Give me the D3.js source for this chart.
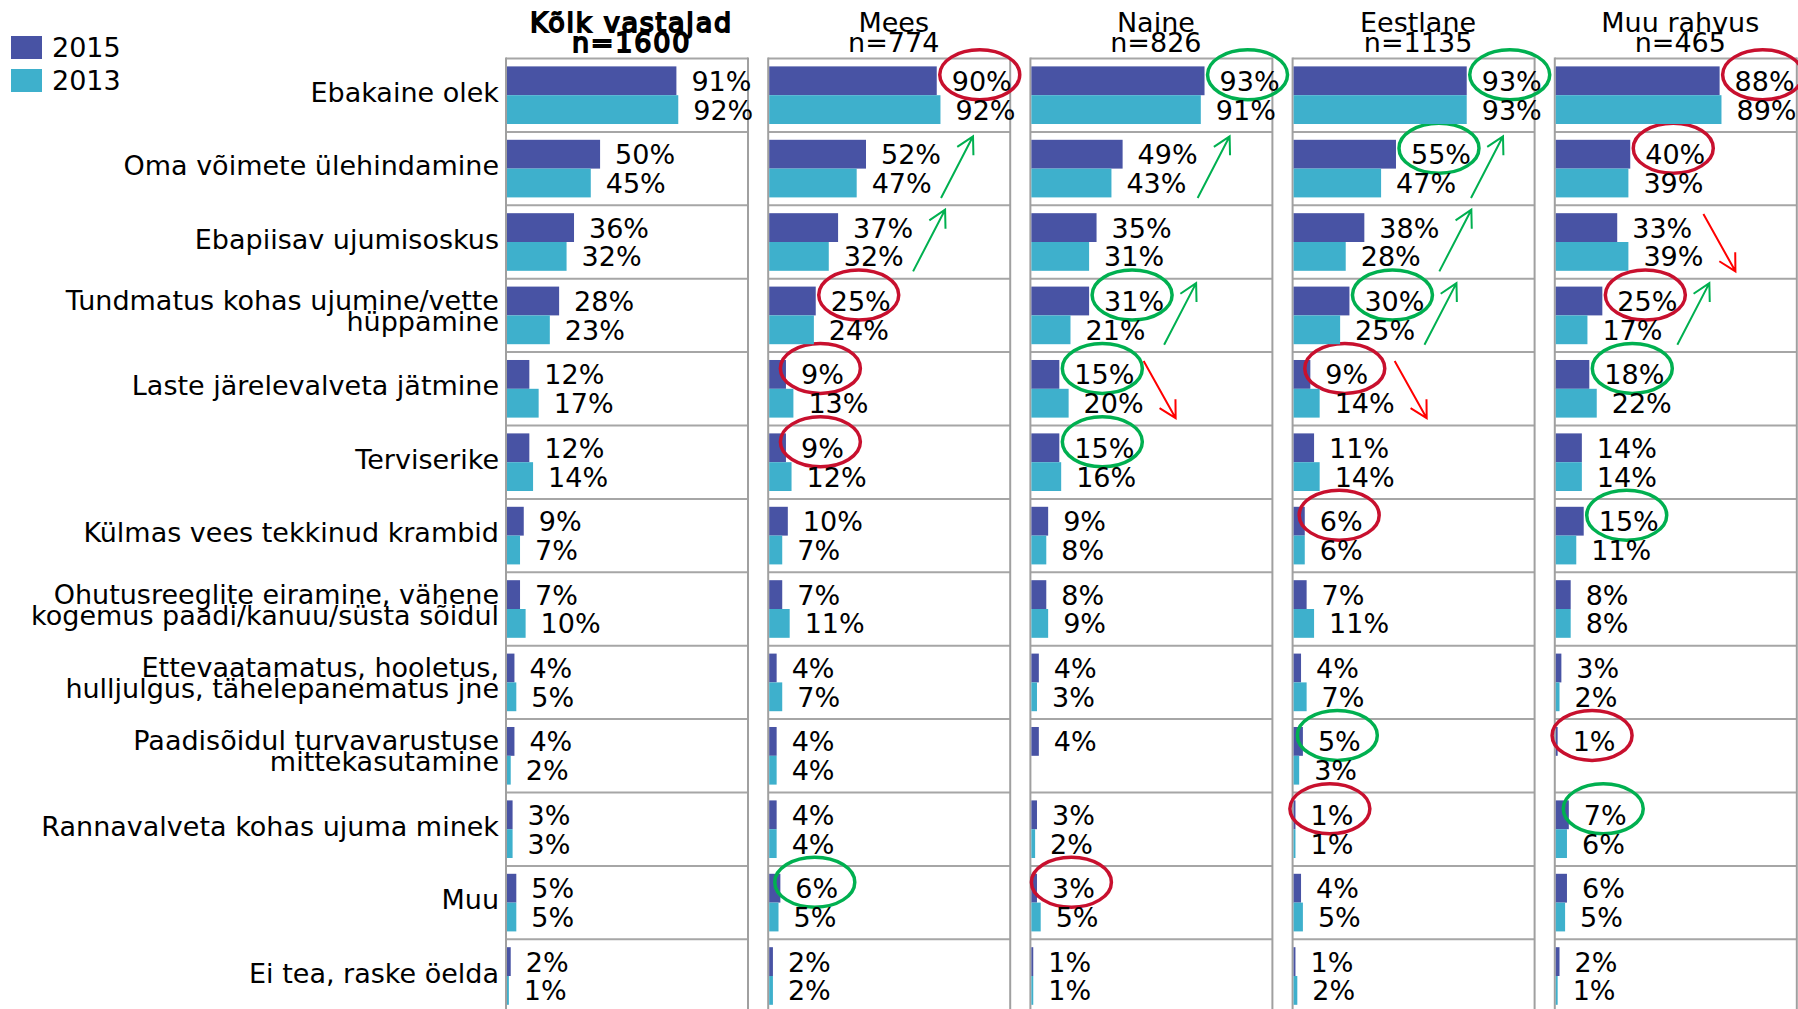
<html>
<head>
<meta charset="utf-8">
<script src="https://d3js.org/d3.v7.min.js"></script>
<style>
  body { margin: 0; background: #fff; }
  text { font-family: "DejaVu Sans", Verdana, sans-serif; fill: #000; }
</style>
</head>
<body>
<div id="chart"></div>
<script>
// categories (a "\n" splits the label in two lines)
var categories = [
  "Ebakaine olek",
  "Oma võimete ülehindamine",
  "Ebapiisav ujumisoskus",
  "Tundmatus kohas ujumine/vette\nhüppamine",
  "Laste järelevalveta jätmine",
  "Terviserike",
  "Külmas vees tekkinud krambid",
  "Ohutusreeglite eiramine, vähene\nkogemus paadi/kanuu/süsta sõidul",
  "Ettevaatamatus, hooletus,\nhulljulgus, tähelepanematus jne",
  "Paadisõidul turvavarustuse\nmittekasutamine",
  "Rannavalveta kohas ujuma minek",
  "Muu",
  "Ei tea, raske öelda"
];
var years = ["2015", "2013"];
var groupNames = ["Kõik vastajad", "Mees", "Naine", "Eestlane", "Muu rahvus"];
var groupN = ["n=1600", "n=774", "n=826", "n=1135", "n=465"];

var all2015   = [91, 50, 36, 28, 12, 12, 9, 7, 4, 4, 3, 5, 2];
var all2013   = [92, 45, 32, 23, 17, 14, 7, 10, 5, 2, 3, 5, 1];
var mees2015  = [90, 52, 37, 25, 9, 9, 10, 7, 4, 4, 4, 6, 2];
var mees2013  = [92, 47, 32, 24, 13, 12, 7, 11, 7, 4, 4, 5, 2];
var naine2015 = [93, 49, 35, 31, 15, 15, 9, 8, 4, 4, 3, 3, 1];
var naine2013 = [91, 43, 31, 21, 20, 16, 8, 9, 3, null, 2, 5, 1];
var eesti2015 = [93, 55, 38, 30, 9, 11, 6, 7, 4, 5, 1, 4, 1];
var eesti2013 = [93, 47, 28, 25, 14, 14, 6, 11, 7, 3, 1, 5, 2];
var muu2015   = [88, 40, 33, 25, 18, 14, 15, 8, 3, 1, 7, 6, 2];
var muu2013   = [89, 39, 39, 17, 22, 14, 11, 8, 2, null, 6, 5, 1];

// 1 = significantly higher than average (green ring), -1 = lower (red ring)
var sigAll   = [0, 0, 0, 0, 0, 0, 0, 0, 0, 0, 0, 0, 0];
var sigMees  = [-1, 0, 0, -1, -1, -1, 0, 0, 0, 0, 0, 1, 0];
var sigNaine = [1, 0, 0, 1, 1, 1, 0, 0, 0, 0, 0, -1, 0];
var sigEesti = [1, 1, 0, 1, -1, 0, -1, 0, 0, 1, -1, 0, 0];
var sigMuu   = [-1, -1, 0, -1, 1, 0, 1, 0, 0, -1, 1, 0, 0];

// change since 2013: 1 = up arrow, -1 = down arrow
var trendAll   = [0, 0, 0, 0, 0, 0, 0, 0, 0, 0, 0, 0, 0];
var trendMees  = [0, 1, 1, 0, 0, 0, 0, 0, 0, 0, 0, 0, 0];
var trendNaine = [0, 1, 0, 1, -1, 0, 0, 0, 0, 0, 0, 0, 0];
var trendEesti = [0, 1, 1, 1, -1, 0, 0, 0, 0, 0, 0, 0, 0];
var trendMuu   = [0, 0, -1, 1, 0, 0, 0, 0, 0, 0, 0, 0, 0];

var groups = [
  {v2015: all2015,   v2013: all2013,   sig: sigAll,   trend: trendAll},
  {v2015: mees2015,  v2013: mees2013,  sig: sigMees,  trend: trendMees},
  {v2015: naine2015, v2013: naine2013, sig: sigNaine, trend: trendNaine},
  {v2015: eesti2015, v2013: eesti2013, sig: sigEesti, trend: trendEesti},
  {v2015: muu2015,   v2013: muu2013,   sig: sigMuu,   trend: trendMuu}
];

var color = {"2015": "#4853a4", "2013": "#3eb0cc"};
var ringColor = {"1": "#00b050", "-1": "#c8102e"};
var arrowColor = {"1": "#00b050", "-1": "#ff0000"};

var width = 1798, height = 1009;
var fontSize = 27;

var svg = d3.select("#chart")
  .append("svg")
    .attr("width", width)
    .attr("height", height);

// panels side by side
var panelX = d3.scaleBand()
  .domain(d3.range(groups.length))
  .range([506, 1796.8])
  .paddingInner(0.077);

var rowH = 73.4, topY = 58.5;
var y = d3.scaleBand()
  .domain(d3.range(categories.length))
  .range([topY, topY + rowH * categories.length]);

var sub = d3.scaleBand()
  .domain(years)
  .range([0, y.bandwidth()])
  .paddingOuter(0.274);

var x = d3.scaleLinear()
  .domain([0, 130])
  .range([0, panelX.bandwidth()]);

// legend
years.forEach(function(yr, i) {
  svg.append("rect")
    .attr("x", 11).attr("y", 36 + i * 33)
    .attr("width", 31).attr("height", 23)
    .attr("fill", color[yr]);
  svg.append("text")
    .attr("x", 52).attr("y", 56.5 + i * 33)
    .style("font-size", fontSize + "px")
    .text(yr);
});

// category labels
categories.forEach(function(c, r) {
  var lines = c.split("\n");
  var cy = y(r) + y.bandwidth() / 2;
  var t = svg.append("text")
    .attr("text-anchor", "end")
    .style("font-size", fontSize + "px");
  if (lines.length == 1) {
    t.attr("x", 499).attr("y", cy + 6.5).text(c);
  } else {
    t.append("tspan").attr("x", 499).attr("y", cy - 5.5).text(lines[0]);
    t.append("tspan").attr("x", 499).attr("y", cy + 15.5).text(lines[1]);
  }
});

var bw = panelX.bandwidth();
var bottom = topY + rowH * categories.length;

groups.forEach(function(g, p) {
  var panel = svg.append("g")
    .attr("transform", "translate(" + panelX(p) + ",0)");

  // header (first one drawn heavier)
  var head = panel.append("text")
    .attr("text-anchor", "middle")
    .style("font-size", fontSize + "px");
  head.append("tspan").attr("x", bw / 2 + 4.5).attr("y", 32).text(groupNames[p]);
  head.append("tspan").attr("x", bw / 2 + 4.5).attr("y", 51.6).text(groupN[p]);
  if (p == 0) {
    head.style("stroke", "#000").style("stroke-width", 1.8)
      .style("letter-spacing", "1.8px");
  }

  // frame and row separators
  panel.selectAll("line.row")
    .data(d3.range(categories.length))
    .enter().append("line")
      .attr("x1", 0).attr("x2", bw)
      .attr("y1", function(r) { return y(r); })
      .attr("y2", function(r) { return y(r); })
      .attr("stroke", "#a6a6a6").attr("stroke-width", 2);
  [0, bw].forEach(function(xx) {
    panel.append("line")
      .attr("x1", xx).attr("x2", xx)
      .attr("y1", topY - 1).attr("y2", bottom)
      .attr("stroke", "#a0a0a0").attr("stroke-width", 2);
  });

  var labelEnd = [];
  years.forEach(function(yr) {
    var vals = g["v" + yr];
    vals.forEach(function(v, r) {
      if (v == null) return;
      var by = y(r) + sub(yr);
      panel.append("rect")
        .attr("x", 1)
        .attr("y", by)
        .attr("width", x(v))
        .attr("height", sub.bandwidth())
        .attr("fill", color[yr]);
      var t = panel.append("text")
        .attr("x", x(v) + 16)
        .attr("y", by + sub.bandwidth() / 2 + 10)
        .style("font-size", fontSize + "px")
        .text(v + "%");
      var w = t.node().getComputedTextLength();
      var end = x(v) + 16 + w;
      labelEnd[r] = Math.max(labelEnd[r] || 0, end);

      // ring around the 2015 value
      if (yr == "2015" && g.sig[r] != 0) {
        panel.append("ellipse")
          .attr("cx", x(v) + 16 + w / 2 - 2)
          .attr("cy", by + sub.bandwidth() / 2 - 6)
          .attr("rx", 40).attr("ry", 25)
          .attr("fill", "none")
          .attr("stroke", ringColor[g.sig[r]])
          .attr("stroke-width", 3.5);
      }
    });
  });

  // trend arrows
  g.trend.forEach(function(d, r) {
    if (d == 0) return;
    var x0 = labelEnd[r], x1 = x0 + 32;
    var y0, y1;
    if (d > 0) { y0 = y(r) + rowH * 0.9; y1 = y(r) + rowH * 0.06; }
    else { y0 = y(r) + rowH * 0.12; y1 = y(r) + rowH * 0.9; }
    var ang = Math.atan2(y0 - y1, x0 - x1);
    var len = 19, spread = 0.5;
    var path = "M" + x0 + "," + y0 + "L" + x1 + "," + y1 +
      "M" + (x1 + len * Math.cos(ang - spread)) + "," + (y1 + len * Math.sin(ang - spread)) +
      "L" + x1 + "," + y1 +
      "L" + (x1 + len * Math.cos(ang + spread)) + "," + (y1 + len * Math.sin(ang + spread));
    panel.append("path")
      .attr("d", path)
      .attr("fill", "none")
      .attr("stroke", arrowColor[d])
      .attr("stroke-width", 2);
  });
});
</script>
</body>
</html>
